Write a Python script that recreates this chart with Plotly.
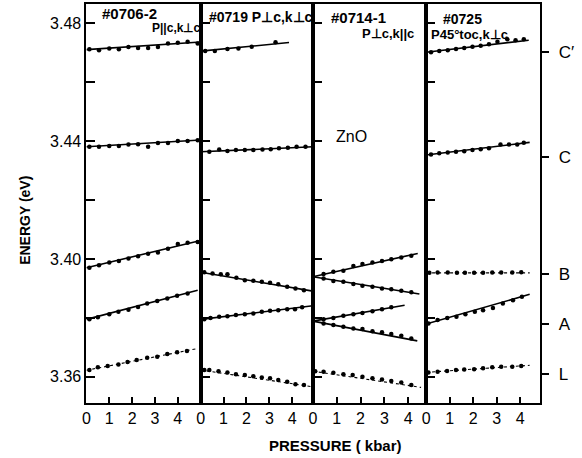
import plotly.graph_objects as go

W, H = 582, 458

# ---------------- data ----------------
# tick labels
X_TICKS = [0, 1, 2, 3, 4]
X_TICK_TEXT = ["0", "1", "2", "3", "4"]
Y_TICKS = [3.36, 3.38, 3.40, 3.42, 3.44, 3.46, 3.48]
Y_TICK_TEXT = ["3.36", "", "3.40", "", "3.44", "", "3.48"]
RIGHT_TICKS = [3.4702, 3.4346, 3.3948, 3.3778, 3.3608]
RIGHT_TEXT = ["C\u2032", "C", "B", "A", "L"]
X_MAX = [5.0, 4.9, 4.75, 4.85]

# Panel 1: #0706-2
P1_CP_X = [0.13, 0.55, 1.0, 1.42, 1.84, 2.26, 2.7, 3.13, 3.57, 4.0, 4.43, 4.87]
P1_CP_Y = [3.4712, 3.4709, 3.4715, 3.4712, 3.4720, 3.4717, 3.4717, 3.4720, 3.4732, 3.4734, 3.4738, 3.4732]
P1_CP_FX, P1_CP_FY = [0, 5.0], [3.4711, 3.4737]
P1_C_X = [0.13, 0.55, 1.0, 1.42, 1.84, 2.26, 2.7, 3.13, 3.57, 4.0, 4.43, 4.87]
P1_C_Y = [3.4381, 3.4381, 3.4384, 3.4384, 3.4389, 3.4390, 3.4381, 3.4394, 3.4394, 3.4401, 3.4401, 3.4403]
P1_C_FX, P1_C_FY = [0, 5.0], [3.4381, 3.4404]
P1_B_X = [0.13, 0.55, 1.0, 1.42, 1.84, 2.26, 2.7, 3.13, 3.57, 4.0, 4.43, 4.87]
P1_B_Y = [3.3970, 3.3979, 3.3988, 3.3993, 3.4002, 3.4009, 3.4018, 3.4022, 3.4035, 3.4051, 3.4055, 3.4058]
P1_B_FX, P1_B_FY = [0, 5.0], [3.3970, 3.4063]
P1_A_X = [0.13, 0.5, 1.0, 1.4, 1.84, 2.26, 2.66, 3.1, 3.54, 3.97, 4.43]
P1_A_Y = [3.3795, 3.3802, 3.3812, 3.3821, 3.3828, 3.3837, 3.3849, 3.3857, 3.3866, 3.3875, 3.3883]
P1_A_FX, P1_A_FY = [0, 4.87], [3.3795, 3.3894]
P1_L_X = [0.13, 0.5, 0.93, 1.4, 1.8, 2.2, 2.66, 3.1, 3.54, 3.97, 4.4]
P1_L_Y = [3.3623, 3.3632, 3.3637, 3.3642, 3.3650, 3.3657, 3.3665, 3.3668, 3.3677, 3.3683, 3.3688]
P1_L_FX, P1_L_FY = [0, 4.87], [3.3622, 3.3696]

# Panel 2: #0719
P2_CP_X = [0.2, 0.62, 1.17, 1.65, 2.23, 3.27]
P2_CP_Y = [3.4706, 3.4706, 3.4713, 3.4715, 3.4721, 3.4736]
P2_CP_FX, P2_CP_FY = [0, 3.86], [3.4706, 3.4735]
P2_C_X = [0.38, 0.81, 1.17, 1.54, 1.93, 2.3, 2.7, 3.06, 3.42, 3.81, 4.19, 4.58]
P2_C_Y = [3.4364, 3.4372, 3.4367, 3.4370, 3.4370, 3.4370, 3.4372, 3.4373, 3.4376, 3.4378, 3.4381, 3.4381]
P2_C_FX, P2_C_FY = [0, 4.9], [3.4364, 3.4381]
P2_B_X = [0.16, 0.52, 0.88, 1.17, 1.56, 1.93, 2.3, 2.67, 3.03, 3.39, 3.78, 4.14, 4.51]
P2_B_Y = [3.3955, 3.3951, 3.3948, 3.3948, 3.3936, 3.3928, 3.3926, 3.3923, 3.3919, 3.3914, 3.3906, 3.3900, 3.3894]
P2_B_FX, P2_B_FY = [0, 4.9], [3.3955, 3.3891]
P2_A_X = [0.16, 0.43, 0.81, 1.17, 1.54, 1.93, 2.3, 2.67, 3.03, 3.39, 3.78, 4.12, 4.43]
P2_A_Y = [3.3795, 3.3800, 3.3804, 3.3806, 3.3810, 3.3812, 3.3815, 3.3821, 3.3824, 3.3826, 3.3829, 3.3829, 3.3836]
P2_A_FX, P2_A_FY = [0, 4.9], [3.3795, 3.3841]
P2_L_X = [0.16, 0.38, 0.78, 1.17, 1.54, 1.93, 2.3, 2.67, 3.03, 3.39, 3.78, 4.14, 4.51]
P2_L_Y = [3.3623, 3.3623, 3.3619, 3.3615, 3.3609, 3.3606, 3.3602, 3.3598, 3.3595, 3.3589, 3.3583, 3.3575, 3.3572]
P2_L_FX, P2_L_FY = [0, 4.9], [3.3623, 3.3566]

# Panel 3: #0714-1
P3_BU_X = [0.45, 0.86, 1.28, 1.7, 2.08, 2.5, 2.9, 3.29, 3.71, 4.13]
P3_BU_Y = [3.3949, 3.3957, 3.3960, 3.3976, 3.3983, 3.3988, 3.3993, 3.3999, 3.4005, 3.4011]
P3_BU_FX, P3_BU_FY = [0, 4.4], [3.3940, 3.4019]
P3_BD_X = [0.45, 0.86, 1.28, 1.7, 2.08, 2.5, 2.9, 3.29, 3.71, 4.13]
P3_BD_Y = [3.3934, 3.3925, 3.3923, 3.3915, 3.3909, 3.3906, 3.3900, 3.3897, 3.3892, 3.3887]
P3_BD_FX, P3_BD_FY = [0, 4.47], [3.3940, 3.3881]
P3_AU_X = [0.45, 0.86, 1.28, 1.7, 2.08, 2.5, 2.9, 3.29]
P3_AU_Y = [3.3795, 3.3800, 3.3807, 3.3812, 3.3817, 3.3823, 3.3829, 3.3836]
P3_AU_FX, P3_AU_FY = [0, 3.85], [3.3789, 3.3843]
P3_AD_X = [0.45, 0.86, 1.28, 1.7, 2.08, 2.5, 2.9, 3.29, 3.71, 4.13]
P3_AD_Y = [3.3781, 3.3776, 3.3770, 3.3764, 3.3762, 3.3755, 3.3751, 3.3745, 3.3739, 3.3730]
P3_AD_FX, P3_AD_FY = [0, 4.38], [3.3789, 3.3722]
P3_L_X = [0.1, 0.45, 0.86, 1.28, 1.67, 2.08, 2.5, 2.9, 3.29, 3.71, 4.13]
P3_L_Y = [3.3619, 3.3617, 3.3614, 3.3609, 3.3606, 3.3600, 3.3595, 3.3591, 3.3586, 3.3581, 3.3572]
P3_L_FX, P3_L_FY = [0, 4.54], [3.3619, 3.3564]

# Panel 4: #0725
P4_CP_X = [0.21, 0.56, 0.92, 1.27, 1.62, 1.97, 2.32, 2.67, 3.03, 3.45, 3.8, 4.15]
P4_CP_Y = [3.4702, 3.4706, 3.4709, 3.4713, 3.4717, 3.4721, 3.4724, 3.4729, 3.4738, 3.4746, 3.4743, 3.4746]
P4_CP_FX, P4_CP_FY = [0, 4.36], [3.4702, 3.4743]
P4_C_X = [0.21, 0.56, 0.92, 1.27, 1.62, 1.97, 2.32, 2.67, 3.16, 3.52, 3.87, 4.15]
P4_C_Y = [3.4355, 3.4359, 3.4362, 3.4364, 3.4366, 3.4370, 3.4373, 3.4376, 3.4389, 3.4389, 3.4389, 3.4395]
P4_C_FX, P4_C_FY = [0, 4.4], [3.4353, 3.4396]
P4_B_X = [0.14, 0.49, 0.92, 1.31, 1.65, 2.04, 2.42, 2.81, 3.19, 3.66, 4.04]
P4_B_Y = [3.3953, 3.3954, 3.3954, 3.3953, 3.3953, 3.3953, 3.3953, 3.3954, 3.3954, 3.3954, 3.3955]
P4_B_FX, P4_B_FY = [0, 4.4], [3.3953, 3.3953]
P4_A_X = [0.1, 0.49, 0.9, 1.29, 1.67, 2.07, 2.42, 2.84, 3.26, 3.69, 4.07]
P4_A_Y = [3.3781, 3.3793, 3.3800, 3.3804, 3.3812, 3.3821, 3.3826, 3.3834, 3.3849, 3.3860, 3.3872]
P4_A_FX, P4_A_FY = [0, 4.4], [3.3779, 3.3880]
P4_L_X = [0.1, 0.49, 0.89, 1.27, 1.62, 2.04, 2.42, 2.81, 3.19, 3.66, 4.04]
P4_L_Y = [3.3615, 3.3617, 3.3620, 3.3623, 3.3625, 3.3626, 3.3629, 3.3632, 3.3634, 3.3634, 3.3637]
P4_L_FX, P4_L_FY = [0, 4.4], [3.3615, 3.3639]

# ---------------- layout helpers ----------------
def px(x):
    return x / W

def py(y):
    return 1 - y / H

PANEL_EDGES = [83, 198, 311, 425, 540]
Y_TOP, Y_BOT = 4, 403
Y_RANGE = [3.3511, 3.4866]

SERIES = [
    (1, P1_CP_X, P1_CP_Y, P1_CP_FX, P1_CP_FY, "solid"),
    (1, P1_C_X, P1_C_Y, P1_C_FX, P1_C_FY, "solid"),
    (1, P1_B_X, P1_B_Y, P1_B_FX, P1_B_FY, "solid"),
    (1, P1_A_X, P1_A_Y, P1_A_FX, P1_A_FY, "solid"),
    (1, P1_L_X, P1_L_Y, P1_L_FX, P1_L_FY, "dot"),
    (2, P2_CP_X, P2_CP_Y, P2_CP_FX, P2_CP_FY, "solid"),
    (2, P2_C_X, P2_C_Y, P2_C_FX, P2_C_FY, "solid"),
    (2, P2_B_X, P2_B_Y, P2_B_FX, P2_B_FY, "solid"),
    (2, P2_A_X, P2_A_Y, P2_A_FX, P2_A_FY, "solid"),
    (2, P2_L_X, P2_L_Y, P2_L_FX, P2_L_FY, "dot"),
    (3, P3_BU_X, P3_BU_Y, P3_BU_FX, P3_BU_FY, "solid"),
    (3, P3_BD_X, P3_BD_Y, P3_BD_FX, P3_BD_FY, "solid"),
    (3, P3_AU_X, P3_AU_Y, P3_AU_FX, P3_AU_FY, "solid"),
    (3, P3_AD_X, P3_AD_Y, P3_AD_FX, P3_AD_FY, "solid"),
    (3, P3_L_X, P3_L_Y, P3_L_FX, P3_L_FY, "dot"),
    (4, P4_CP_X, P4_CP_Y, P4_CP_FX, P4_CP_FY, "solid"),
    (4, P4_C_X, P4_C_Y, P4_C_FX, P4_C_FY, "solid"),
    (4, P4_B_X, P4_B_Y, P4_B_FX, P4_B_FY, "dot"),
    (4, P4_A_X, P4_A_Y, P4_A_FX, P4_A_FY, "solid"),
    (4, P4_L_X, P4_L_Y, P4_L_FX, P4_L_FY, "dot"),
]

FONT = "Liberation Sans"

fig = go.Figure()
for panel, xs, ys, fx, fy, style in SERIES:
    xa = "x" if panel == 1 else f"x{panel}"
    ya = "y" if panel == 1 else f"y{panel}"
    fig.add_trace(go.Scatter(
        x=fx, y=fy, mode="lines", xaxis=xa, yaxis=ya,
        line=dict(color="black", width=1.6 if style == "solid" else 1.1, dash=style),
        showlegend=False, hoverinfo="skip"))
    fig.add_trace(go.Scatter(
        x=xs, y=ys, mode="markers", xaxis=xa, yaxis=ya,
        marker=dict(color="black", size=4.5),
        showlegend=False))

# invisible trace to activate right-hand label axis
fig.add_trace(go.Scatter(x=[0], y=[RIGHT_TICKS[0]], xaxis="x4", yaxis="y5",
                         mode="markers", marker=dict(opacity=0), showlegend=False,
                         hoverinfo="skip"))

layout = dict(
    width=W, height=H, autosize=False,
    margin=dict(l=0, r=0, t=0, b=0),
    paper_bgcolor="white", plot_bgcolor="white",
    font=dict(family=FONT, color="black"),
    showlegend=False,
)

for i in range(4):
    n = i + 1
    xkey = "xaxis" if n == 1 else f"xaxis{n}"
    ykey = "yaxis" if n == 1 else f"yaxis{n}"
    ya = "y" if n == 1 else f"y{n}"
    xa = "x" if n == 1 else f"x{n}"
    layout[xkey] = dict(
        domain=[px(PANEL_EDGES[i]), px(PANEL_EDGES[i + 1])],
        anchor=ya, range=[0, X_MAX[i]],
        tickvals=X_TICKS, ticktext=X_TICK_TEXT,
        ticks="inside", ticklen=6, tickwidth=1.5, tickcolor="black",
        showline=True, linewidth=2, linecolor="black", mirror=True,
        showgrid=False, zeroline=False,
        tickfont=dict(size=16, family=FONT, color="black"),
        fixedrange=True,
    )
    layout[ykey] = dict(
        domain=[py(Y_BOT), py(Y_TOP)],
        anchor=xa, range=Y_RANGE,
        tickvals=Y_TICKS, ticktext=Y_TICK_TEXT,
        showticklabels=(n == 1),
        ticks="inside", ticklen=9, tickwidth=1.5, tickcolor="black",
        showline=True, linewidth=2, linecolor="black", mirror=True,
        showgrid=False, zeroline=False,
        tickfont=dict(size=16, family=FONT, color="black"),
        fixedrange=True,
    )

layout["yaxis5"] = dict(
    overlaying="y4", side="right", anchor="x4", range=Y_RANGE,
    tickvals=RIGHT_TICKS, ticktext=RIGHT_TEXT,
    ticks="outside", ticklen=8, tickwidth=1.5, tickcolor="black",
    ticklabelstandoff=6,
    showline=False, showgrid=False, zeroline=False,
    tickfont=dict(size=17, family=FONT, color="black"),
    fixedrange=True,
)

fig.update_layout(**layout)

ann = [
    ("#0706-2", 97, 14, 15, "left"),
    ("P||c,k\u22a5c", 147, 28, 12, "left"),
    ("#0719 P\u22a5c,k\u22a5c", 204, 17, 14, "left"),
    ("#0714-1", 327, 17, 15, "left"),
    ("P\u22a5c,k||c", 358, 33, 13, "left"),
    ("ZnO", 332, 136, 16, "left"),
    ("#0725", 440, 19, 14, "left"),
    ("P45\u00b0toc,k\u22a5c", 428, 34, 13, "left"),
]
annotations = []
for text, x, y, size, align in ann:
    annotations.append(dict(
        text=f"<b>{text}</b>" if text != "ZnO" else text,
        x=px(x), y=py(y), xref="paper", yref="paper",
        xanchor=align, yanchor="middle", showarrow=False,
        font=dict(size=size, family=FONT, color="black")))
annotations.append(dict(
    text="<b>PRESSURE ( kbar)</b>", x=px(334), y=py(445), xref="paper", yref="paper",
    xanchor="center", yanchor="middle", showarrow=False,
    font=dict(size=15, family=FONT, color="black")))
annotations.append(dict(
    text="<b>ENERGY (eV)</b>", x=px(21), y=py(220), xref="paper", yref="paper",
    xanchor="center", yanchor="middle", showarrow=False, textangle=-90,
    font=dict(size=14, family=FONT, color="black")))
fig.update_layout(annotations=annotations)

fig.write_html("out.html")
